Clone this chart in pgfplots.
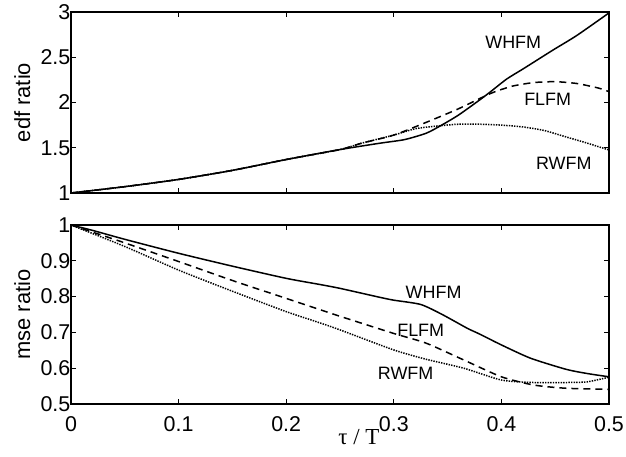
\documentclass[border=0pt]{standalone}
\usepackage{pgfplots}
\pgfplotsset{compat=1.18}
\usepackage{fontspec}
\setmainfont{Liberation Sans}
\newfontfamily\seriffont{Liberation Serif}

\tikzset{lab/.style={font=\fontsize{18}{18}\selectfont}}
\pgfplotsset{
  ratioaxis/.style={
    scale only axis,
    width=538bp,
    xmin=0, xmax=0.5,
    xtick={0,0.1,0.2,0.3,0.4,0.5},
    tick align=inside,
    major tick length=5bp,
    axis line style={line width=1.2bp},
    every tick/.style={black, line width=0.9bp},
    /pgf/number format/assume math mode=true,
    every tick label/.append style={font=\fontsize{21.5}{21.5}\selectfont},
    yticklabel style={inner sep=0.5bp},
    xticklabel style={yshift=-9bp},
    ylabel style={font=\fontsize{22}{22}\selectfont,
      at={(axis description cs:-0.075,0.5)}, anchor=south, inner sep=0pt},
    every axis plot/.append style={black, line width=1.5bp, smooth, tension=0.4},
  },
  whfm/.style={solid},
  flfm/.style={dash pattern=on 7bp off 5bp},
  rwfm/.style={dash pattern=on 1.4bp off 1.2bp},
}

\begin{document}
\begin{tikzpicture}
\useasboundingbox (0,0) rectangle (626bp,457bp);

% upper panel: edf ratio
\begin{axis}[ratioaxis,
    at={(71bp,264bp)}, anchor=south west,
    height=181bp,
    ymin=1, ymax=3,
    ytick={1,1.5,2,2.5,3},
    xticklabels={},
    ylabel={edf ratio},
  ]
\addplot[whfm] coordinates {
  (0,1) (0.05,1.07) (0.1,1.15) (0.15,1.25) (0.2,1.37) (0.25,1.48)
  (0.287,1.55) (0.31,1.59) (0.33,1.66) (0.343,1.74) (0.36,1.86)
  (0.38,2.03) (0.39,2.12) (0.405,2.26) (0.42,2.37) (0.448,2.58)
  (0.47,2.74) (0.5,2.99)};
\addplot[flfm] coordinates {
  (0,1) (0.05,1.07) (0.1,1.15) (0.15,1.25) (0.2,1.37) (0.25,1.48)
  (0.27,1.55) (0.3,1.64) (0.33,1.78) (0.36,1.93) (0.39,2.10)
  (0.41,2.18) (0.43,2.22) (0.45,2.23) (0.47,2.21) (0.49,2.16) (0.5,2.12)};
\addplot[rwfm] coordinates {
  (0,1) (0.05,1.07) (0.1,1.15) (0.15,1.25) (0.2,1.37) (0.25,1.48)
  (0.27,1.55) (0.3,1.64) (0.32,1.71) (0.34,1.74) (0.36,1.76)
  (0.38,1.76) (0.4,1.75) (0.42,1.73) (0.44,1.69) (0.46,1.62)
  (0.48,1.55) (0.5,1.475)};
\node[lab] at (axis cs:0.411,2.67) {WHFM};
\node[lab] at (axis cs:0.443,2.03) {FLFM};
\node[lab] at (axis cs:0.458,1.33) {RWFM};
\end{axis}

% lower panel: mse ratio
\begin{axis}[ratioaxis,
    at={(71bp,53bp)}, anchor=south west,
    height=179bp,
    ymin=0.5, ymax=1,
    ytick={0.5,0.6,0.7,0.8,0.9,1},
    ylabel={mse ratio},
    xlabel={\seriffont τ / T},
    xlabel style={font=\fontsize{23}{23}\selectfont,
      at={(axis description cs:0.535,0)}, anchor=base, yshift=-40bp},
  ]
\addplot[whfm] coordinates {
  (0,1) (0.02,0.985) (0.05,0.96) (0.1,0.921) (0.15,0.885) (0.2,0.851)
  (0.231,0.834) (0.25,0.823) (0.287,0.798) (0.3,0.79) (0.325,0.778)
  (0.345,0.75) (0.368,0.712) (0.38,0.695) (0.4,0.665) (0.427,0.628)
  (0.46,0.597) (0.48,0.585) (0.5,0.576)};
\addplot[flfm] coordinates {
  (0,1) (0.05,0.95) (0.1,0.898) (0.15,0.845) (0.2,0.795) (0.231,0.764)
  (0.25,0.745) (0.3,0.697) (0.33,0.67) (0.365,0.623) (0.4,0.576)
  (0.43,0.553) (0.46,0.544) (0.5,0.541)};
\addplot[rwfm] coordinates {
  (0,1) (0.05,0.94) (0.1,0.874) (0.15,0.815) (0.2,0.758) (0.231,0.727)
  (0.25,0.707) (0.3,0.651) (0.33,0.625) (0.365,0.60) (0.4,0.567)
  (0.43,0.56) (0.46,0.56) (0.48,0.562) (0.5,0.575)};
\node[lab] at (axis cs:0.337,0.813) {WHFM};
\node[lab] at (axis cs:0.325,0.707) {FLFM};
\node[lab] at (axis cs:0.311,0.587) {RWFM};
\end{axis}
\end{tikzpicture}
\end{document}
